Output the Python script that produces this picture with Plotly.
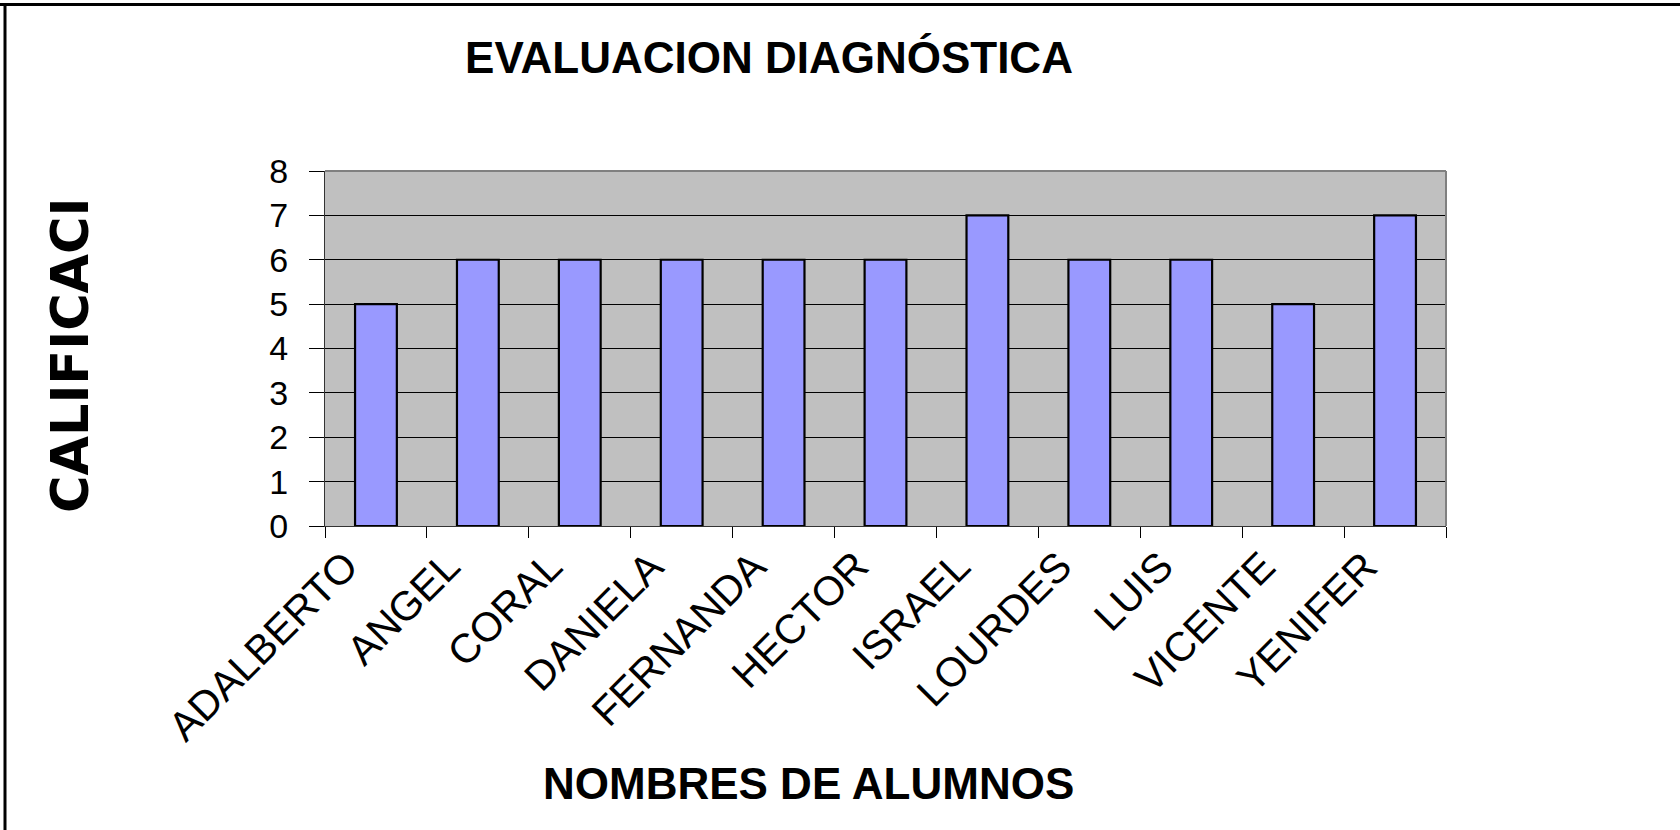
import plotly.graph_objects as go

alumnos = ["ADALBERTO", "ANGEL", "CORAL", "DANIELA", "FERNANDA", "HECTOR",
           "ISRAEL", "LOURDES", "LUIS", "VICENTE", "YENIFER"]
calificaciones = [5, 6, 6, 6, 6, 6, 7, 6, 6, 5, 7]
y_ticks = [0, 1, 2, 3, 4, 5, 6, 7, 8]

titulo = "EVALUACION DIAGNÓSTICA"
titulo_x = "NOMBRES DE ALUMNOS"
titulo_y = "CALIFICACI"

W, H = 1680, 830
L, R, T, B = 325, 1446, 171, 526
pw, ph = R - L, B - T


def px(x):
    return (x - L) / pw


def py(y):
    return (B - y) / ph


FONT = "Arial, Liberation Sans, sans-serif"

fig = go.Figure()
fig.add_trace(go.Bar(
    x=alumnos, y=calificaciones,
    marker=dict(color="#9999FF", line=dict(color="black", width=2.2)),
))

fig.update_layout(
    width=W, height=H,
    margin=dict(l=L, r=W - R, t=T, b=H - B, autoexpand=False),
    paper_bgcolor="white", plot_bgcolor="#C0C0C0",
    bargap=0.59, showlegend=False,
    title=dict(text=titulo, x=769 / W, y=1 - 58 / H, xanchor="center", yanchor="middle",
               font=dict(family=FONT, size=44, color="black", weight="bold")),
    xaxis=dict(
        type="category", categoryorder="array", categoryarray=alumnos,
        range=[-0.5, len(alumnos) - 0.5], tickson="boundaries",
        ticks="outside", ticklen=11, tickcolor="black", tickwidth=1,
        showline=True, linecolor="#333333", linewidth=1,
        showgrid=False, zeroline=False, showticklabels=False,
    ),
    yaxis=dict(
        range=[0, 8], tickvals=y_ticks, ticktext=[str(v) for v in y_ticks],
        ticks="outside", ticklen=15, tickcolor="black", tickwidth=1,
        showline=True, linecolor="#333333", linewidth=1,
        showgrid=True, gridcolor="black", gridwidth=1, zeroline=False,
        tickfont=dict(family=FONT, size=34, color="black"),
        ticklabelstandoff=14,
    ),
)

shapes = [
    dict(type="line", xref="paper", yref="paper", x0=0, x1=1, y0=1, y1=1,
         line=dict(color="#808080", width=2)),
    dict(type="line", xref="paper", yref="paper", x0=1, x1=1, y0=0, y1=1,
         line=dict(color="#808080", width=2)),
    dict(type="line", xref="paper", yref="paper", x0=px(0), x1=px(W), y0=py(4.5), y1=py(4.5),
         line=dict(color="black", width=3)),
    dict(type="line", xref="paper", yref="paper", x0=px(5), x1=px(5), y0=py(3), y1=py(H),
         line=dict(color="black", width=3)),
]
fig.update_layout(shapes=shapes)

# category labels, rotated, placed on the category axis positions
for i, name in enumerate(alumnos):
    fig.add_annotation(text=name, xref="x", x=i, yref="paper", y=py(540),
                       showarrow=False, xanchor="right", yanchor="top", textangle=-45,
                       xshift=-6, font=dict(family=FONT, size=41, color="black"))

fig.add_annotation(text=titulo_x, xref="paper", yref="paper", x=px(808), y=py(783),
                   showarrow=False, xanchor="center", yanchor="middle",
                   font=dict(family=FONT, size=44, color="black", weight="bold"))
fig.add_annotation(text=titulo_y, xref="paper", yref="paper", x=px(70), y=py(355),
                   showarrow=False, xanchor="center", yanchor="middle", textangle=-90,
                   font=dict(family="DejaVu Sans, Arial, sans-serif", size=51,
                             color="black", weight="bold"))

fig.write_html("out.html", config={"displayModeBar": False},
               post_script="document.body.style.margin='0';document.body.style.padding='0';")
